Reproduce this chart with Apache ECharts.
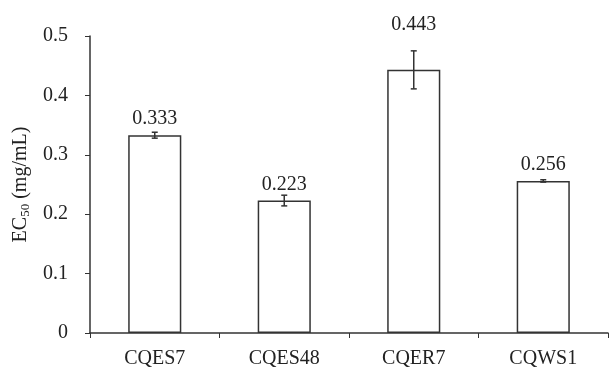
<!DOCTYPE html>
<html><head><meta charset="utf-8">
<script src="https://cdn.jsdelivr.net/npm/echarts@6/dist/echarts.min.js"></script>
<style>html,body{margin:0;padding:0;background:#fff}#c{width:611px;height:369px}</style>
</head><body><div id="c"></div>
<script>
var categories = ['CQES7', 'CQES48', 'CQER7', 'CQWS1'];
var means = [0.333, 0.223, 0.443, 0.256];
var errors = [0.005, 0.009, 0.032, 0.002];
var yTicks = [0, 0.1, 0.2, 0.3, 0.4, 0.5];

var FONT = '"Liberation Serif", "Times New Roman", serif';
var INK = '#222';
var LINE = '#333';

var chart = echarts.init(document.getElementById('c'), null, {renderer: 'canvas'});
var errData = categories.map(function (c, i) { return [i, means[i], errors[i]]; });

chart.setOption({
  backgroundColor: '#fff',
  animation: false,
  grid: {left: 90, right: 3, top: 36, bottom: 36, containLabel: false},
  xAxis: {
    type: 'category',
    data: categories,
    boundaryGap: true,
    axisLine: {show: true, lineStyle: {color: LINE, width: 1.5}},
    axisTick: {show: true, length: 5, lineStyle: {color: LINE, width: 1}},
    axisLabel: {color: INK, fontFamily: FONT, fontSize: 20, margin: 16}
  },
  yAxis: {
    type: 'value',
    min: yTicks[0],
    max: yTicks[yTicks.length - 1],
    interval: 0.1,
    name: '{a|EC}{b|50}{a| (mg/mL)}',
    nameLocation: 'middle',
    nameRotate: 90,
    nameGap: 58,
    nameTextStyle: {
      color: INK, fontFamily: FONT, fontSize: 20,
      rich: {
        a: {fontFamily: FONT, fontSize: 20, color: INK, lineHeight: 22},
        b: {fontFamily: FONT, fontSize: 13, color: INK, lineHeight: 22, verticalAlign: 'bottom'}
      }
    },
    splitLine: {show: false},
    axisLine: {show: true, lineStyle: {color: LINE, width: 1.5}},
    axisTick: {show: true, length: 5, lineStyle: {color: LINE, width: 1}},
    axisLabel: {
      color: INK, fontFamily: FONT, fontSize: 20, margin: 22,
      formatter: function (v) { return String(Math.round(v * 10) / 10); }
    }
  },
  series: [
    {
      type: 'bar',
      data: means,
      barWidth: '41%',
      itemStyle: {color: '#fff', borderColor: LINE, borderWidth: 1.5},
      z: 2
    },
    {
      type: 'custom',
      data: errData,
      z: 5,
      renderItem: function (params, api) {
        var i = api.value(0), m = api.value(1), e = api.value(2);
        var top = api.coord([i, m + e]);
        var bot = api.coord([i, m - e]);
        var barTop = api.coord([i, m]);
        var x = top[0], cap = 3;
        var labelBottom = barTop[1] - 6;
        if (top[1] < labelBottom) labelBottom = top[1] - 16;
        return {
          type: 'group',
          children: [
            {type: 'line', shape: {x1: x, y1: top[1], x2: x, y2: bot[1]}, style: {stroke: LINE, lineWidth: 1.5}},
            {type: 'line', shape: {x1: x - cap, y1: top[1], x2: x + cap, y2: top[1]}, style: {stroke: LINE, lineWidth: 1.5}},
            {type: 'line', shape: {x1: x - cap, y1: bot[1], x2: x + cap, y2: bot[1]}, style: {stroke: LINE, lineWidth: 1.5}},
            {type: 'text', style: {
              text: m.toFixed(3), x: x, y: labelBottom,
              align: 'center', verticalAlign: 'bottom',
              fill: INK, font: '20px ' + FONT
            }}
          ]
        };
      }
    }
  ]
});
</script></body></html>
